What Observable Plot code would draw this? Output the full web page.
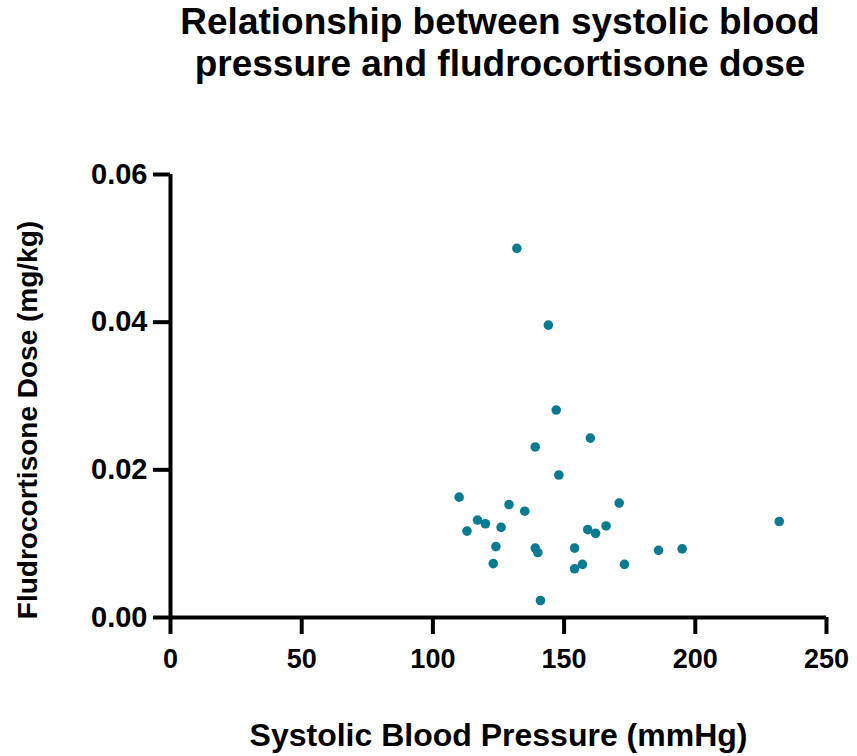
<!DOCTYPE html>
<html>
<head>
<meta charset="utf-8">
<script src="https://cdn.jsdelivr.net/npm/d3@7"></script>
<script src="https://cdn.jsdelivr.net/npm/@observablehq/plot@0.6"></script>
<style>
  html, body { margin: 0; padding: 0; background: #fff; }
  #wrap { position: relative; width: 857px; height: 756px; font-family: "Liberation Sans", Arial, sans-serif; }
  #title { position: absolute; left: 100px; width: 800px; top: 1px; text-align: center; white-space: nowrap;
           font-size: 37px; font-weight: bold; line-height: 42px; color: #000; z-index: 2; }
  #chart { position: absolute; left: 0; top: 0; }
</style>
</head>
<body>
<div id="wrap">
  <div id="title">Relationship between systolic blood<br>pressure and fludrocortisone dose</div>
  <div id="chart"></div>
</div>
<script>
// Systolic blood pressure (mmHg) per patient
const sbp = [139, 160, 148, 110, 129, 135, 117, 120, 113, 126, 171, 166, 159, 162,
             124, 139, 140, 154, 123, 154, 157, 173, 186, 195, 141, 132, 144, 147, 232];
// Fludrocortisone dose (mg/kg) per patient
const dose = [0.0231, 0.0243, 0.0193, 0.0163, 0.0153, 0.0144, 0.0132, 0.0127, 0.0117, 0.0122,
              0.0155, 0.0124, 0.0119, 0.0114, 0.0096, 0.0094, 0.0088, 0.0094, 0.0073, 0.0066,
              0.0072, 0.0072, 0.0091, 0.0093, 0.0023, 0.0500, 0.0396, 0.0281, 0.0130];

const xTicks = [0, 50, 100, 150, 200, 250];
const yTicks = [0, 0.02, 0.04, 0.06];
const xLabel = "Systolic Blood Pressure (mmHg)";
const yLabel = "Fludrocortisone Dose (mg/kg)";

const points = sbp.map((s, i) => ({sbp: s, dose: dose[i]}));

const chart = Plot.plot({
  width: 857,
  height: 756,
  marginLeft: 170,
  marginRight: 31,
  marginTop: 174,
  marginBottom: 139,
  style: {fontFamily: "Liberation Sans, Arial, sans-serif", fontWeight: "bold", color: "#000", background: "transparent"},
  x: {domain: [0, 250]},
  y: {domain: [0, 0.06]},
  marks: [
    Plot.ruleY([0], {stroke: "#000", strokeWidth: 4}),
    Plot.ruleX([0], {stroke: "#000", strokeWidth: 4}),
    Plot.axisX({ticks: xTicks, tickSize: 17, strokeWidth: 4, tickPadding: 14, fontSize: 27,
                fontWeight: "bold", label: null, tickFormat: d3.format("d")}),
    Plot.axisY({ticks: yTicks, tickSize: 17, strokeWidth: 4, tickPadding: 6, fontSize: 29,
                fontWeight: "bold", label: null, tickFormat: d3.format(".2f")}),
    Plot.text([xLabel], {frameAnchor: "bottom", dy: 128, fontSize: 32, fontWeight: "bold", fill: "#000"}),
    Plot.text([yLabel], {frameAnchor: "left", rotate: -90, textAnchor: "middle", dx: -142, dy: 24,
                         fontSize: 28, fontWeight: "bold", fill: "#000"}),
    Plot.dot(points, {x: "sbp", y: "dose", r: 4.8, fill: "#0b7a91", stroke: null})
  ]
});
document.getElementById("chart").appendChild(chart);
</script>
</body>
</html>
